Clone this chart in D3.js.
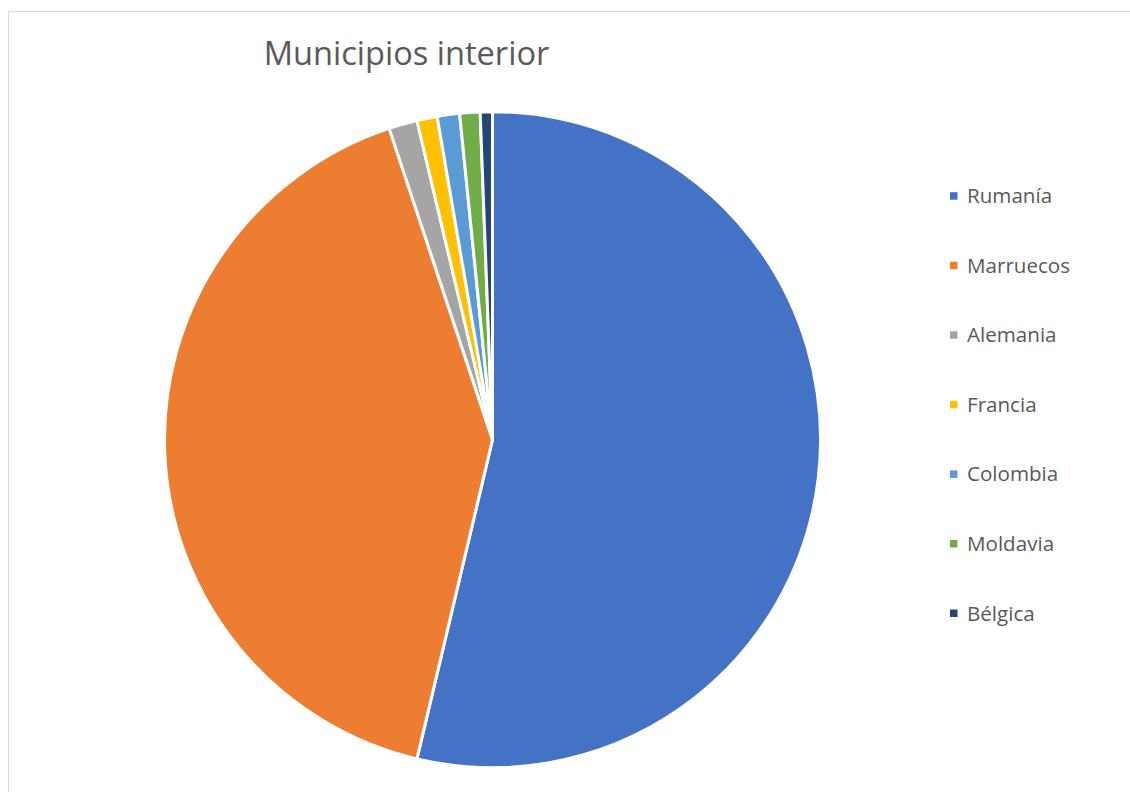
<!DOCTYPE html>
<html>
<head>
<meta charset="utf-8">
<script src="https://cdn.jsdelivr.net/npm/d3@7"></script>
<style>
  html, body { margin: 0; padding: 0; background: #fff; }
  svg { display: block; }
</style>
</head>
<body>
<svg id="chart" width="1130" height="792"></svg>
<script>
// Foreign-born residents in interior municipalities, by country of origin
const countries = ["Rumanía", "Marruecos", "Alemania", "Francia", "Colombia", "Moldavia", "Bélgica"];
const residents = [537, 412, 14, 10, 11, 10, 6];
const colors = ["#4472C4", "#ED7D31", "#A5A5A5", "#FFC000", "#5B9BD5", "#70AD47", "#264478"];
const title = "Municipios interior";

const svg = d3.select("#chart");
const width = 1130, height = 792;

// chart frame
svg.append("rect")
  .attr("x", 8.5).attr("y", 11.5)
  .attr("width", width).attr("height", height)
  .attr("fill", "#fff")
  .attr("stroke", "#d9d9d9")
  .attr("stroke-width", 1);

svg.append("text")
  .attr("x", 406.5).attr("y", 65)
  .attr("text-anchor", "middle")
  .attr("font-family", "'Open Sans', sans-serif")
  .attr("font-size", 32.6)
  .attr("fill", "#595959")
  .text(title);

const data = countries.map((c, i) => ({ country: c, value: residents[i] }));
const color = d3.scaleOrdinal().domain(countries).range(colors);

const pie = d3.pie().sort(null).value(d => d.value);
const radius = 328;
const arc = d3.arc().innerRadius(0).outerRadius(radius);

const g = svg.append("g").attr("transform", "translate(492.5,439.7)");
g.selectAll("path")
  .data(pie(data))
  .join("path")
  .attr("d", arc)
  .attr("fill", d => color(d.data.country))
  .attr("stroke", "#fff")
  .attr("stroke-width", 3)
  .attr("stroke-linejoin", "round");

// legend
const legendY = d3.scalePoint().domain(countries).range([196, 613.3]);
const legend = svg.append("g");
const item = legend.selectAll("g")
  .data(countries)
  .join("g")
  .attr("transform", d => `translate(950,${legendY(d)})`);
item.append("rect")
  .attr("x", 0).attr("y", -3.8)
  .attr("width", 7.5).attr("height", 7.5)
  .attr("fill", d => color(d));
item.append("text")
  .attr("x", 17).attr("y", 0)
  .attr("dy", "0.35em")
  .attr("font-family", "'Open Sans', sans-serif")
  .attr("font-size", 20.6)
  .attr("fill", "#595959")
  .text(d => d);
</script>
</body>
</html>
